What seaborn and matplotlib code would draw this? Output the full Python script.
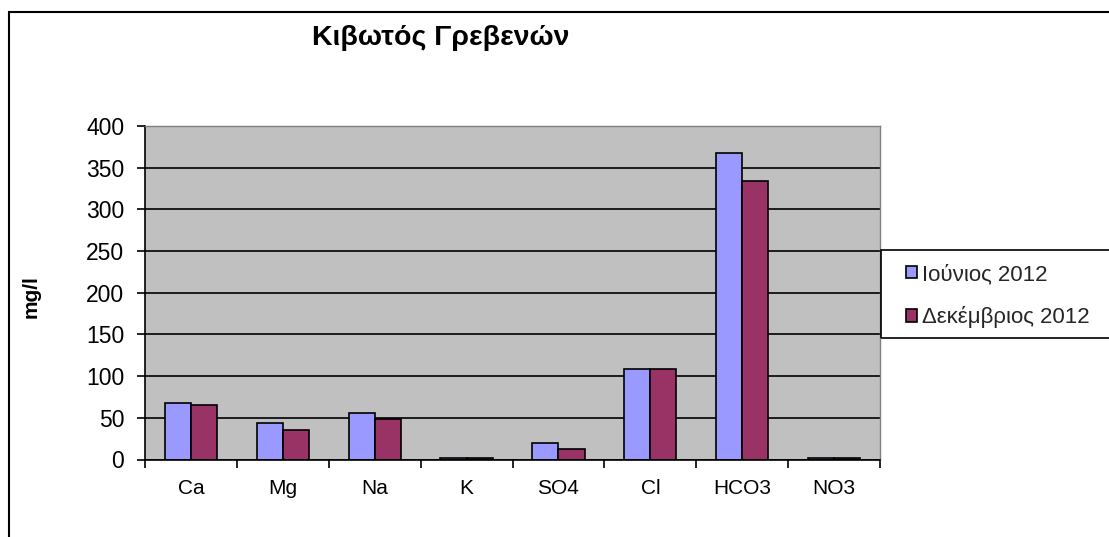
import matplotlib
matplotlib.use("Agg")
import matplotlib.pyplot as plt
import seaborn as sns
import pandas as pd
from matplotlib.patches import Rectangle
from matplotlib.ticker import FixedLocator, MultipleLocator

categories = ["Ca", "Mg", "Na", "K", "SO4", "Cl", "HCO3", "NO3"]
june_2012 = [68, 44, 56, 2, 19.5, 108, 368, 2]
dec_2012 = [65.5, 35, 49, 2, 12.5, 108, 334, 2]
series_names = ["Ιούνιος 2012", "Δεκέμβριος 2012"]
title = "Κιβωτός Γρεβενών"
ylabel = "mg/l"

df = pd.DataFrame({
    "cat": categories * 2,
    "val": june_2012 + dec_2012,
    "series": [series_names[0]] * len(categories) + [series_names[1]] * len(categories),
})

sns.set_theme(style="white")
plt.rcParams['font.family'] = ['Liberation Sans', 'DejaVu Sans']

W, H = 1109, 537
fig = plt.figure(figsize=(W / 100, H / 100), dpi=100)
fig.patch.set_facecolor("white")

ax = fig.add_axes([145 / W, 1 - 459.5 / H, (880 - 145) / W, (459.5 - 126) / H])
ax.set_facecolor("#C0C0C0")

sns.barplot(data=df, x="cat", y="val", hue="series", order=categories,
            hue_order=series_names, palette=["#9999FF", "#993366"], saturation=1,
            width=0.57, edgecolor="black", linewidth=1.2, ax=ax, legend=True)

ax.set_ylim(0, 400)
ax.set_xlim(-0.5, len(categories) - 0.5)
ax.yaxis.set_major_locator(MultipleLocator(50))
ax.yaxis.grid(True, color="black", linewidth=1.2)
ax.xaxis.grid(False)
ax.set_axisbelow(True)
for s in ["top", "right"]:
    ax.spines[s].set_visible(True)
    ax.spines[s].set_color("#808080")
    ax.spines[s].set_linewidth(1.0)
for s in ["left", "bottom"]:
    ax.spines[s].set_color("black")
    ax.spines[s].set_linewidth(1.2)

ax.tick_params(axis="y", which="major", direction="out", length=6, width=1.2,
               color="black", labelsize=16.5, pad=9, left=True)
ax.tick_params(axis="x", which="major", length=0, labelsize=15, pad=14)
ax.xaxis.set_minor_locator(FixedLocator([i + 0.5 for i in range(-1, len(categories))]))
ax.tick_params(axis="x", which="minor", direction="out", length=6, width=1.2,
               color="black", bottom=True)
ax.set_xlabel("")
ax.set_ylabel("")
for lab in ax.get_xticklabels() + ax.get_yticklabels():
    lab.set_color("black")

fig.text(31 / W, 1 - 297 / H, ylabel, rotation=90, fontsize=15, fontweight="bold",
         ha="center", va="center", color="black")
fig.text(441 / W, 1 - 38 / H, title, fontsize=20.5, fontweight="bold",
         ha="center", va="center", color="black")

handles, labels = ax.get_legend_handles_labels()
ax.get_legend().remove()
leg = fig.legend(handles, labels, loc="upper left",
                 bbox_to_anchor=(896 / W, 1 - 254 / H), fontsize=16,
                 frameon=False,
                 handlelength=0.5, handleheight=0.5, handletextpad=0.2,
                 labelspacing=0.95, borderpad=0.45, borderaxespad=0)

# legend frame (extends past right edge, as in the reference)
fig.patches.append(Rectangle((881 / W, 1 - 338 / H), 0.5, 88 / H,
                             transform=fig.transFigure, fill=False,
                             edgecolor="black", linewidth=1.2, figure=fig))

fig.patches.append(Rectangle((9 / W, -0.1), 1.2, 1 - 12 / H + 0.1,
                             transform=fig.transFigure, fill=False,
                             edgecolor="black", linewidth=1.5, figure=fig))

fig.savefig("out.png", dpi=100, facecolor="white")
